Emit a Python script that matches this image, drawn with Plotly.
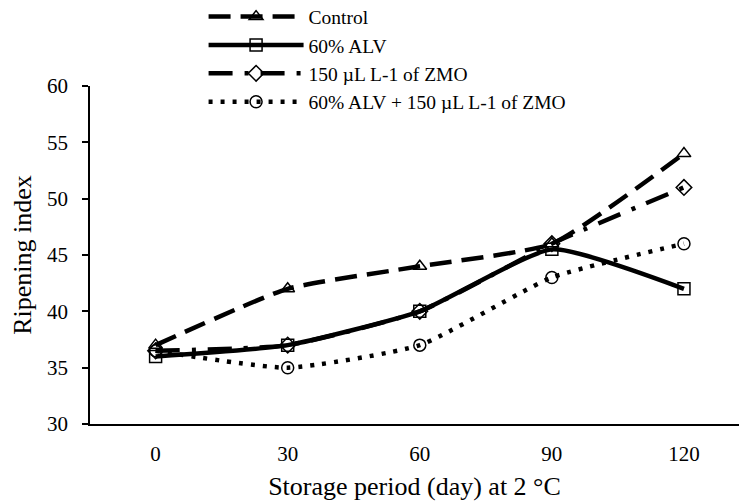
import plotly.graph_objects as go

days = [0, 30, 60, 90, 120]
control = [37, 42, 44, 46, 54]
alv60 = [36, 37, 40, 45.5, 42]
zmo150 = [36.5, 37, 40, 46, 51]
alv_zmo = [36.5, 35, 37, 43, 46]

series = [
    ("Control", control, "22px,10px", "triangle-up-open"),
    ("60%\u2009ALV", alv60, "solid", "square-open"),
    ("150 \u00b5L L-1 of ZMO", zmo150, "24px,12px,4px,12px", "diamond-open"),
    ("60% ALV + 150 \u00b5L L-1 of ZMO", alv_zmo, "4px,8px", "circle-open"),
]

fig = go.Figure()
for name, vals, dash, sym in series:
    fig.add_trace(go.Scatter(
        x=days, y=vals, name=name, mode="lines+markers",
        line=dict(color="black", width=4.5, dash=dash, shape="spline", smoothing=0.5),
        marker=dict(symbol=sym, size=12, color="black", line=dict(width=1.5, color="black")),
    ))

font = "Liberation Serif, Times New Roman, serif"
fig.update_layout(
    width=739, height=504,
    margin=dict(l=90, r=0, t=86, b=80, autoexpand=False),
    paper_bgcolor="white", plot_bgcolor="white",
    font=dict(family=font, size=21, color="black"),
    showlegend=True,
    legend=dict(
        x=0.175, y=1.262, xanchor="left", yanchor="top",
        bgcolor="rgba(0,0,0,0)", font=dict(family=font, size=19.5),
        itemwidth=95, tracegroupgap=0,
    ),
    xaxis=dict(
        range=[-14.9, 132.5], tickvals=days, ticktext=[str(d) for d in days],
        showgrid=False, zeroline=False, showline=True, linecolor="black", linewidth=2,
        ticks="", ticklabelstandoff=10, tickfont=dict(size=21),
        title=dict(text="Storage period (day) at 2 \u00b0C", font=dict(size=26), standoff=12),
    ),
    yaxis=dict(
        range=[30, 60], dtick=5, showgrid=False, zeroline=False,
        showline=True, linecolor="black", linewidth=1.5,
        ticks="outside", ticklen=6, tickwidth=1.5, tickcolor="black",
        ticklabelstandoff=10, tickfont=dict(size=21),
        title=dict(text="Ripening index", font=dict(size=26), standoff=8),
    ),
)

fig.write_html("out.html")
